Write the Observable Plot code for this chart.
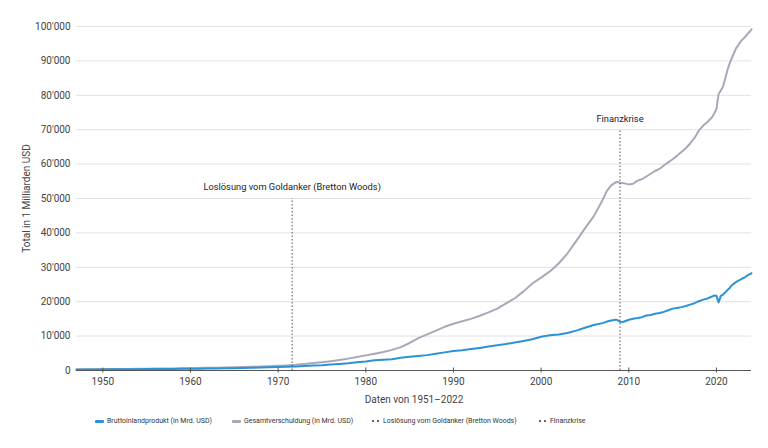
<!DOCTYPE html>
<html>
<head>
<meta charset="utf-8">
<script src="https://cdn.jsdelivr.net/npm/d3@7"></script>
<script src="https://cdn.jsdelivr.net/npm/@observablehq/plot@0.6"></script>
<style>
  html, body { margin: 0; padding: 0; background: #fff; }
  #wrap { position: relative; width: 768px; height: 448px; font-family: Roboto, sans-serif; color: #333; }
  #legend { position: absolute; left: 0; top: 408px; width: 768px; height: 26px; font-size: 7px; }
  .item { position: absolute; top: 9px; display: flex; align-items: center; white-space: nowrap; }
  .sw { display: inline-block; width: 9px; height: 3px; margin-right: 3px; border-radius: 1px; }
  .dots { display: inline-block; width: 8px; height: 3px; margin-right: 3px; position: relative; }
  .dots::before, .dots::after { content: ""; position: absolute; top: 0.5px; width: 2px; height: 2px; background: #666; }
  .dots::before { left: 0; } .dots::after { left: 5px; }
</style>
</head>
<body>
<div id="wrap">
  <div id="chart"></div>
  <div id="legend"></div>
</div>
<script>
// ---- Data (values in Mrd. USD) ----
const t = [
  1947,1948,1949,1950,1951,1952,1953,1954,1955,1956,1957,1958,1959,
  1960,1961,1962,1963,1964,1965,1966,1967,1968,1969,
  1970,1971,1972,1973,1974,1975,1976,1977,1978,1979,
  1980,1981,1982,1983,1984,1985,1986,1987,1988,1989,
  1990,1991,1992,1993,1994,1995,1996,1997,1998,1999,
  2000,2001,2002,2003,2004,2005,2006,2007,2007.5,
  2008,2008.5,2008.75,2009,2009.25,2009.5,2010,2010.5,
  2011,2011.5,2012,2012.5,2013,2013.5,2014,2014.5,
  2015,2015.5,2016,2016.5,2017,2017.5,2018,2018.5,
  2019,2019.5,2019.75,2020,2020.25,2020.5,2020.75,
  2021,2021.25,2021.5,2021.75,2022,2022.25,2022.5,2022.75,
  2023,2023.25,2023.5,2023.75,2024
];
const gdp = [
  243,261,275,281,330,356,386,385,404,436,464,458,497,
  542,544,585,612,654,690,761,801,848,932,
  1017,1086,1182,1330,1447,1548,1735,1894,2084,2418,
  2650,2980,3150,3300,3690,4020,4250,4470,4860,5270,
  5700,5880,6220,6570,6950,7370,7690,8170,8600,9080,
  9800,10250,10460,10890,11590,12410,13230,13770,14220,
  14550,14780,14600,14150,14100,14250,14760,15020,
  15240,15500,15970,16150,16480,16700,17030,17500,
  17990,18200,18420,18730,19150,19560,20150,20600,
  20950,21500,21800,21700,19800,21690,22070,
  22660,23370,23920,24780,25250,25720,26140,26410,
  26810,27060,27610,27960,28270
];
const debt = [
  360,370,380,400,420,440,460,490,520,550,580,610,650,
  690,730,780,830,890,950,1020,1090,1170,1260,
  1350,1480,1650,1900,2150,2400,2700,3050,3450,3900,
  4400,4900,5400,6000,6800,8000,9400,10500,11600,12700,
  13600,14300,15000,15900,16900,18000,19500,21000,23000,25300,
  27000,28800,31100,34000,37600,41300,44800,49500,52200,
  53800,54700,54800,54600,54500,54400,54100,54300,
  55200,55600,56400,57200,58000,58600,59600,60500,
  61400,62400,63500,64600,66000,67600,69800,71200,
  72300,73600,74700,76000,80400,81400,82500,
  84800,87300,89200,90800,92300,93700,94600,95600,
  96300,96900,97700,98400,99200
];
const xTicks = [1950,1960,1970,1980,1990,2000,2010,2020];
const yTicks = [0,10000,20000,30000,40000,50000,60000,70000,80000,90000,100000];
const events = ["Loslösung vom Goldanker (Bretton Woods)", "Finanzkrise"];
const eventYears = [1971.6, 2009.0];
const eventTops = [50000, 70000];
const seriesNames = ["Bruttoinlandprodukt (in Mrd. USD)", "Gesamtverschuldung (in Mrd. USD)"];
const colors = ["#2b92d5", "#a9a8b9"];

// ---- Build tables ----
const gdpRows = t.map((x, i) => ({x, y: gdp[i]}));
const debtRows = t.map((x, i) => ({x, y: debt[i]}));
const eventRows = events.map((name, i) => ({name, x: eventYears[i], top: eventTops[i]}));
const fmt = d => d3.format(",")(d).replace(/,/g, "'");

const chart = Plot.plot({
  width: 768,
  height: 408,
  marginTop: 26,
  marginRight: 17,
  marginBottom: 38,
  marginLeft: 76,
  style: {fontFamily: "Roboto, sans-serif", fontSize: "10px", color: "#333", background: "#fff"},
  x: {type: "linear", domain: [1947, 2024]},
  y: {type: "linear", domain: [0, 100000]},
  marks: [
    Plot.gridY(yTicks, {stroke: "#e2e2e2", strokeOpacity: 1}),
    Plot.axisY(yTicks, {tickSize: 0, tickPadding: 6, tickFormat: fmt, fill: "#444",
      label: "Total in 1 Milliarden USD", labelAnchor: "center", labelArrow: "none", labelOffset: 54}),
    Plot.axisX(xTicks, {tickSize: 0, tickPadding: 7, tickFormat: d => String(d), fill: "#444",
      label: "Daten von 1951–2022", labelAnchor: "center", labelArrow: "none", labelOffset: 32}),
    Plot.line(debtRows, {x: "x", y: "y", stroke: colors[1], strokeWidth: 2}),
    Plot.line(gdpRows, {x: "x", y: "y", stroke: colors[0], strokeWidth: 2}),
    Plot.ruleY([0], {stroke: "#555", strokeWidth: 1}),
    Plot.ruleX(xTicks, {x: d => d, y1: 0, y2: 0, insetTop: -2.5, insetBottom: -2.5, stroke: "#555", strokeWidth: 1}),
    Plot.ruleX(eventRows, {x: "x", y1: 0, y2: "top", stroke: "#555", strokeWidth: 1, strokeDasharray: "1.5,2"}),
    Plot.text(eventRows, {x: "x", y: "top", text: "name", dy: -11, fontSize: 9.3, fill: "#222"})
  ]
});
document.getElementById("chart").appendChild(chart);

// ---- Legend ----
const legend = document.getElementById("legend");
const legendItems = [
  {label: seriesNames[0], kind: "line", color: colors[0], left: 95},
  {label: seriesNames[1], kind: "line", color: colors[1], left: 232},
  {label: events[0], kind: "dots", left: 372},
  {label: events[1], kind: "dots", left: 539}
];
legendItems.forEach(it => {
  const d = document.createElement("div");
  d.className = "item";
  d.style.left = it.left + "px";
  const s = document.createElement("span");
  if (it.kind === "line") { s.className = "sw"; s.style.background = it.color; }
  else s.className = "dots";
  d.appendChild(s);
  const txt = document.createElement("span");
  txt.textContent = it.label;
  d.appendChild(txt);
  legend.appendChild(d);
});
</script>
</body>
</html>
